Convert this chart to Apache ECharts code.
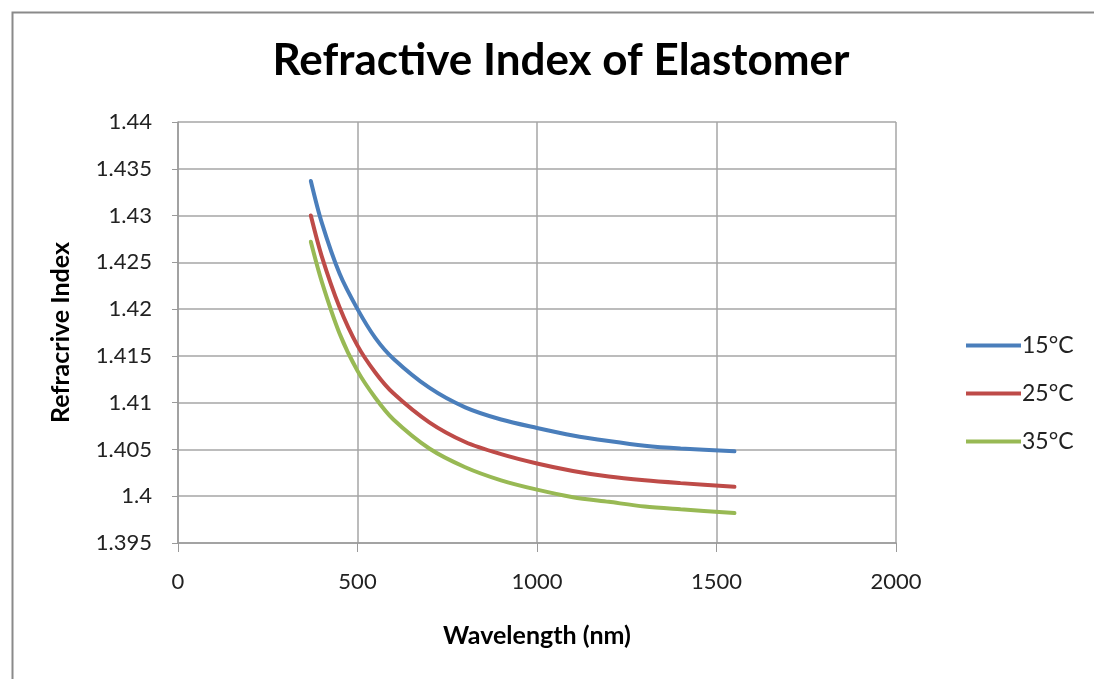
<!DOCTYPE html>
<html>
<head>
<meta charset="utf-8">
<script src="https://cdn.jsdelivr.net/npm/echarts@6/dist/echarts.min.js"></script>
<style>
html,body{margin:0;padding:0;background:#fff;}
#chart{width:1094px;height:679px;}
</style>
</head>
<body>
<div id="chart"></div>
<script>
const wavelengths = [370, 400, 450, 500, 550, 600, 700, 800, 900, 1000, 1100, 1200, 1300, 1400, 1550];
const n15 = [1.4337, 1.4293, 1.4238, 1.4200, 1.4169, 1.4147, 1.4116, 1.4095, 1.4082, 1.4073, 1.4065, 1.4059, 1.4054, 1.4051, 1.4048];
const n25 = [1.4300, 1.4257, 1.4202, 1.4161, 1.4132, 1.4110, 1.4079, 1.4058, 1.4045, 1.4035, 1.4027, 1.4021, 1.4017, 1.4014, 1.4010];
const n35 = [1.4272, 1.4230, 1.4174, 1.4134, 1.4105, 1.4082, 1.4051, 1.4031, 1.4017, 1.4007, 1.3999, 1.3994, 1.3989, 1.3986, 1.3982];
const seriesNames = ['15°C', '25°C', '35°C'];
const colors = ['#4a7ebb', '#be4b48', '#98b954'];

const chart = echarts.init(document.getElementById('chart'));
const pair = arr => wavelengths.map((w, i) => [w, arr[i]]);
const font = 'Lato, "Open Sans", sans-serif';
chart.setOption({
  animation: false,
  textStyle: {fontFamily: font},
  title: {
    text: 'Refractive Index of Elastomer',
    left: 556, top: 34, textAlign: 'center',
    textStyle: {fontFamily: font, fontSize: 44, fontWeight: 'bold', color: '#000'}
  },
  graphic: [{
    type: 'rect', left: 10, top: 10,
    shape: {width: 1120, height: 720},
    style: {fill: 'none', stroke: '#8a8a8a', lineWidth: 2}
  }],
  legend: {
    orient: 'vertical', left: 961, top: 329, itemGap: 25,
    itemWidth: 55, itemHeight: 22, itemStyle: {borderWidth: 0},
    icon: 'path://M0,9 L55,9 L55,13 L0,13 Z',
    textStyle: {fontFamily: font, fontSize: 23, color: '#222', padding: [0,0,0,-4]},
    data: seriesNames
  },
  grid: {left: 178, right: 198, top: 122, bottom: 136, containLabel: false},
  xAxis: {
    type: 'value', min: 0, max: 2000, interval: 500,
    name: 'Wavelength (nm)', nameLocation: 'middle', nameGap: 80,
    nameTextStyle: {fontFamily: font, fontSize: 25, fontWeight: 'bold', color: '#000'},
    axisLine: {show: true, lineStyle: {color: '#9a9a9a', width: 1.5}},
    axisTick: {show: true, length: 9, lineStyle: {color: '#9a9a9a'}},
    axisLabel: {fontFamily: font, fontSize: 22, color: '#222', margin: 28,
      formatter: v => String(v)},
    splitLine: {show: true, lineStyle: {color: '#a6a6a6', width: 1.5}}
  },
  yAxis: {
    type: 'value', min: 1.395, max: 1.44, interval: 0.005,
    name: 'Refracrive Index', nameLocation: 'middle', nameGap: 105, nameRotate: 90,
    nameTextStyle: {fontFamily: font, fontSize: 25, fontWeight: 'bold', color: '#000'},
    axisLine: {show: true, lineStyle: {color: '#9a9a9a', width: 1.5}},
    axisTick: {show: true, length: 6, lineStyle: {color: '#9a9a9a'}},
    axisLabel: {fontFamily: font, fontSize: 22, color: '#222', margin: 26,
      formatter: v => String(+v.toFixed(3))},
    splitLine: {show: true, lineStyle: {color: '#a6a6a6', width: 1.5}}
  },
  series: [n15, n25, n35].map((arr, i) => ({
    name: seriesNames[i], type: 'line', smooth: 0.3, symbol: 'none',
    data: pair(arr),
    lineStyle: {color: colors[i], width: 4, cap: 'round'},
    itemStyle: {color: colors[i]}
  }))
});
</script>
</body>
</html>
